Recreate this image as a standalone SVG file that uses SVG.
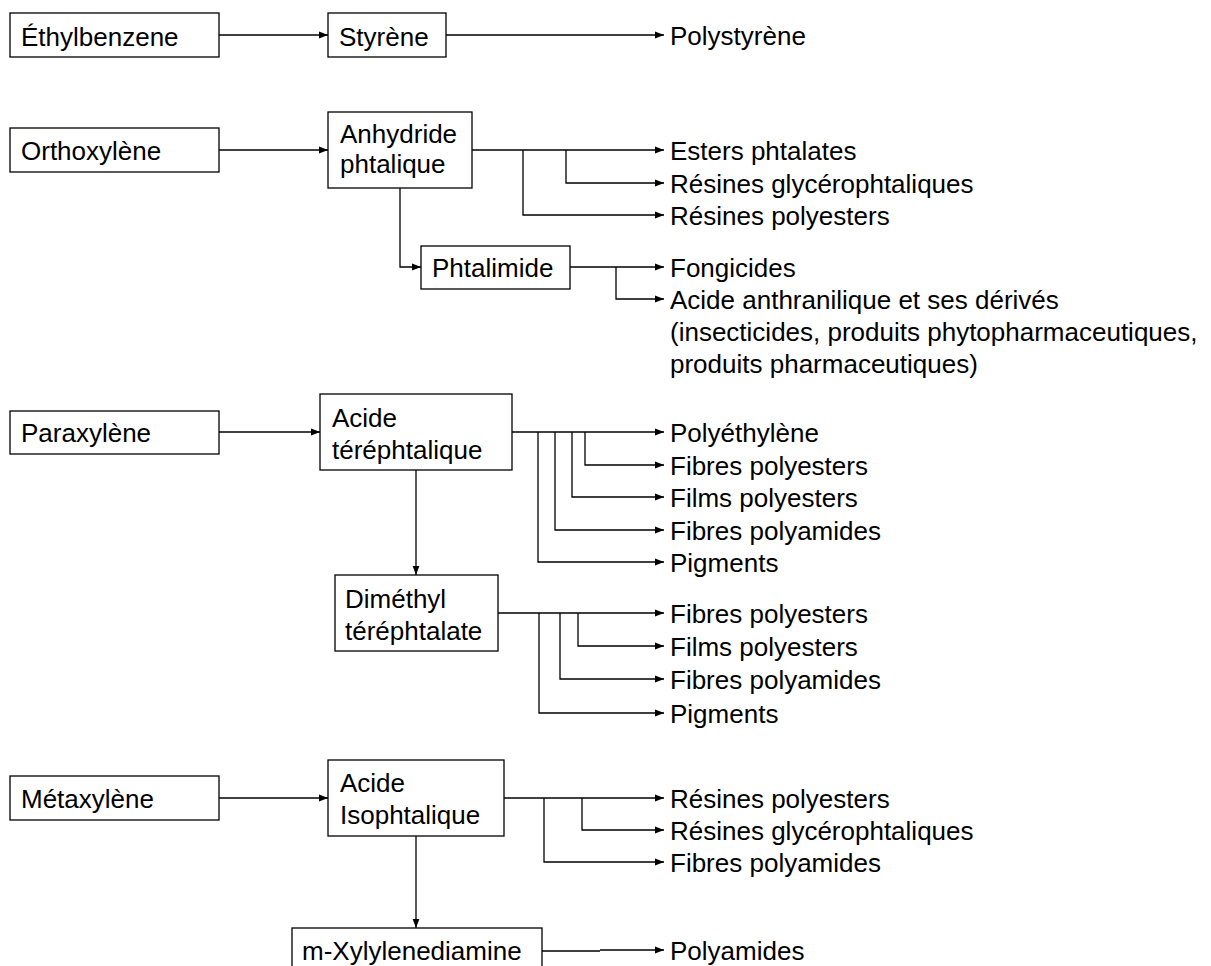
<svg xmlns="http://www.w3.org/2000/svg" width="1211" height="966" viewBox="0 0 1211 966">
<style>
.box{fill:#fff;stroke:#000;stroke-width:1.3}
.t{font-family:"Liberation Sans",Arial,sans-serif;font-size:26px;fill:#000}
.c{fill:none;stroke:#000;stroke-width:1.3}
.a{marker-end:url(#ah)}
</style>
<defs>
<marker id="ah" markerUnits="userSpaceOnUse" markerWidth="10" markerHeight="8" refX="9" refY="4" orient="auto">
<path d="M0,0.6 L9,4 L0,7.4 Z" fill="#000"/>
</marker>
</defs>
<rect width="1211" height="966" fill="#fff"/>
<g id="connectors">
<path class="c a" d="M219,35 H328"/>
<path class="c a" d="M446,35 H664"/>
<path class="c a" d="M219,150 H328"/>
<path class="c a" d="M472,150 H664"/>
<path class="c a" d="M566,150 V183 H664"/>
<path class="c a" d="M523,150 V215 H664"/>
<path class="c a" d="M400,188 V267 H421"/>
<path class="c a" d="M570,267 H664"/>
<path class="c a" d="M616,267 V299 H664"/>
<path class="c a" d="M219,432 H320"/>
<path class="c a" d="M512,432 H664"/>
<path class="c a" d="M585,432 V465 H664"/>
<path class="c a" d="M572,432 V497 H664"/>
<path class="c a" d="M555,432 V530 H664"/>
<path class="c a" d="M538,432 V562 H664"/>
<path class="c a" d="M416,470 V575"/>
<path class="c a" d="M498,613 H664"/>
<path class="c a" d="M578,613 V646 H664"/>
<path class="c a" d="M560,613 V679 H664"/>
<path class="c a" d="M539,613 V713 H664"/>
<path class="c a" d="M219,798 H328"/>
<path class="c a" d="M504,798 H664"/>
<path class="c a" d="M582,798 V830 H664"/>
<path class="c a" d="M544,798 V862 H664"/>
<path class="c a" d="M416,836 V928"/>
<path class="c" d="M542,951 H600"/>
<path class="c a" d="M600,950 H664"/>
</g>
<g id="n-ethylbenzene"><rect class="box" x="10" y="13" width="209" height="44"/><text class="t" x="21" y="46">Éthylbenzene</text></g>
<g id="n-styrene"><rect class="box" x="328" y="13" width="118" height="44"/><text class="t" x="339" y="46">Styrène</text></g>
<g id="n-polystyrene"><text class="t" x="670" y="45">Polystyrène</text></g>
<g id="n-orthoxylene"><rect class="box" x="10" y="128" width="209" height="44"/><text class="t" x="21" y="160">Orthoxylène</text></g>
<g id="n-anhydride"><rect class="box" x="328" y="112" width="144" height="76"/><text class="t" x="340" y="143">Anhydride</text><text class="t" x="340" y="173">phtalique</text></g>
<g id="n-esters"><text class="t" x="670" y="160">Esters phtalates</text></g>
<g id="n-resglyc1"><text class="t" x="670" y="193">Résines glycérophtaliques</text></g>
<g id="n-respoly1"><text class="t" x="670" y="225">Résines polyesters</text></g>
<g id="n-phtalimide"><rect class="box" x="421" y="246" width="149" height="43"/><text class="t" x="432" y="277">Phtalimide</text></g>
<g id="n-fongicides"><text class="t" x="670" y="277">Fongicides</text></g>
<g id="n-anthranilique"><text class="t" x="670" y="309">Acide anthranilique et ses dérivés</text><text class="t" x="670" y="341">(insecticides, produits phytopharmaceutiques,</text><text class="t" x="670" y="373">produits pharmaceutiques)</text></g>
<g id="n-paraxylene"><rect class="box" x="10" y="411" width="209" height="43"/><text class="t" x="21" y="442">Paraxylène</text></g>
<g id="n-terephtalique"><rect class="box" x="320" y="394" width="192" height="76"/><text class="t" x="332" y="427">Acide</text><text class="t" x="332" y="459">téréphtalique</text></g>
<g id="n-polyethylene"><text class="t" x="670" y="442">Polyéthylène</text></g>
<g id="n-fibpoly1"><text class="t" x="670" y="475">Fibres polyesters</text></g>
<g id="n-filmpoly1"><text class="t" x="670" y="507">Films polyesters</text></g>
<g id="n-fibamid1"><text class="t" x="670" y="540">Fibres polyamides</text></g>
<g id="n-pigments1"><text class="t" x="670" y="572">Pigments</text></g>
<g id="n-dmt"><rect class="box" x="335" y="575" width="163" height="76"/><text class="t" x="345" y="608">Diméthyl</text><text class="t" x="345" y="640">téréphtalate</text></g>
<g id="n-fibpoly2"><text class="t" x="670" y="623">Fibres polyesters</text></g>
<g id="n-filmpoly2"><text class="t" x="670" y="656">Films polyesters</text></g>
<g id="n-fibamid2"><text class="t" x="670" y="689">Fibres polyamides</text></g>
<g id="n-pigments2"><text class="t" x="670" y="723">Pigments</text></g>
<g id="n-metaxylene"><rect class="box" x="10" y="776" width="209" height="44"/><text class="t" x="21" y="808">Métaxylène</text></g>
<g id="n-isophtalique"><rect class="box" x="328" y="760" width="176" height="76"/><text class="t" x="340" y="792">Acide</text><text class="t" x="340" y="824">Isophtalique</text></g>
<g id="n-respoly3"><text class="t" x="670" y="808">Résines polyesters</text></g>
<g id="n-resglyc3"><text class="t" x="670" y="840">Résines glycérophtaliques</text></g>
<g id="n-fibamid3"><text class="t" x="670" y="872">Fibres polyamides</text></g>
<g id="n-mxylylene"><rect class="box" x="292" y="928" width="250" height="60"/><text class="t" x="302" y="960">m-Xylylenediamine</text></g>
<g id="n-polyamides"><text class="t" x="670" y="960">Polyamides</text></g>
</svg>
